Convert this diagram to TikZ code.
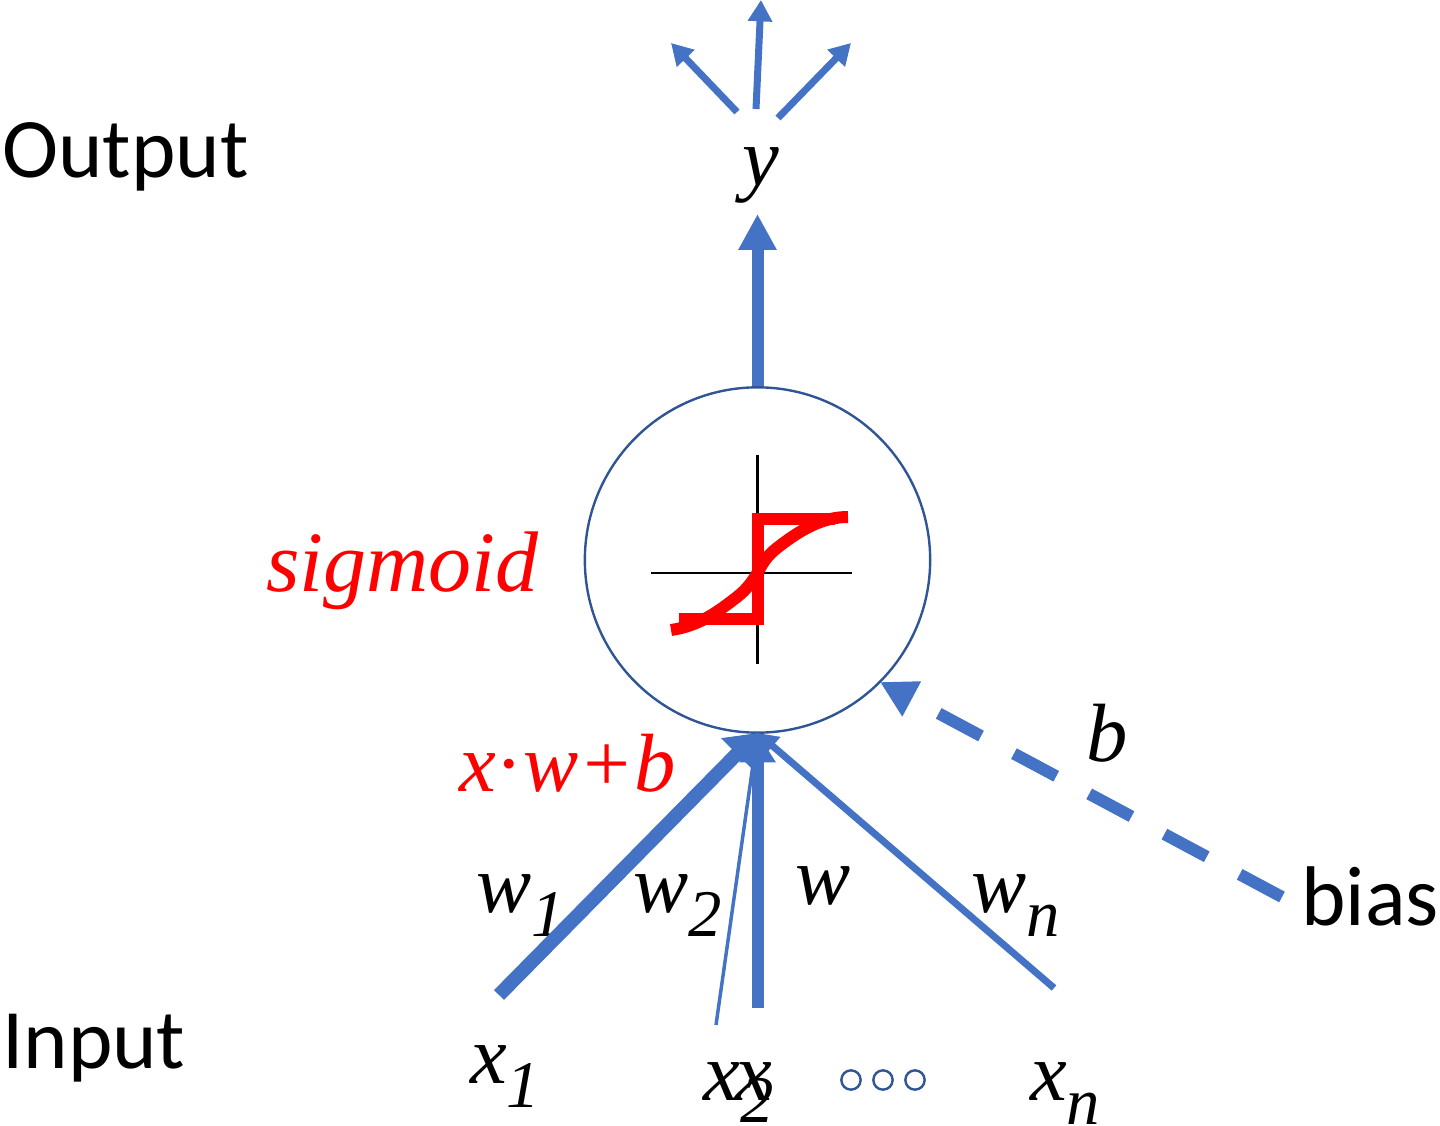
\documentclass[tikz,border=0pt]{standalone}
\usepackage{fontspec}
\setmainfont{Liberation Serif}
\newfontfamily\calibrifont{Carlito}
\definecolor{nnblue}{HTML}{4472C4}
\definecolor{nndark}{HTML}{2F5597}
\definecolor{nnred}{HTML}{FF0000}
\usetikzlibrary{arrows.meta}
\newcommand{\lowsub}[1]{\raisebox{-0.3em}{\fontsize{50}{50}\selectfont #1}}

\begin{document}
\begin{tikzpicture}[x=0.75pt, y=-0.75pt,
  lbl/.style={inner sep=0pt, anchor=base west, font=\fontsize{63.5}{63.5}\calibrifont},
  var/.style={inner sep=0pt, anchor=base west, font=\fontsize{62}{62}\selectfont\itshape},
  big/.style={line width=9pt, nnblue, -{Triangle[length=27pt, width=27pt]}},
  mid/.style={line width=5.25pt, nnblue, -{Triangle[length=16pt, width=17.5pt]}},
  redline/.style={line width=9pt, nnred}
]
  \useasboundingbox (0,0) rectangle (1440,1126);

  % Neuron
  \node[circle, draw=nndark, line width=1.8pt, minimum size=259pt, inner sep=0pt] (cell) at (757.5,560) {};

  % Labels
  \node[lbl] (output) at (2,178) {Output};
  \node[lbl] (input) at (2,1068) {Input};
  \node[lbl] (bias) at (1301,925) {bias};
  \node[var] (y) at (742,186) {y};
  \node[var, nnred, font=\fontsize{64.5}{64.5}\selectfont\itshape] (sigmoid) at (266,592) {sigmoid};
  \node[var, nnred] (sum) at (459,792) {x{\upshape·}w+b};
  \node[var] (b) at (1086,762) {b};
  \node[var] (w1) at (476,912) {w\lowsub{1}};
  \node[var] (w2) at (633,912) {w\lowsub{2}};
  \node[var] (w) at (795,904) {w};
  \node[var] (wn) at (971,912) {w\lowsub{n}};
  \node[var] (x1) at (470,1083) {x\lowsub{1}};
  \node[var] (x2) at (703,1100) {x};
  \node[var] (x3) at (735,1100) {x};
  \node[var] (sub2) at (740,1122) {\fontsize{50}{50}\selectfont 2};
  \node[var] (xn) at (1030,1100) {x\lowsub{n}};

  % Dots
  \foreach \i/\px in {1/851,2/883,3/915}
    \node[circle, draw=nndark, line width=1.8pt, minimum size=14.5pt, inner sep=0pt] (dot\i) at (\px,1080) {};

  % Ends
  \coordinate (ytip) at (757.5,214);
  \coordinate (tipl) at (671,43);
  \coordinate (tipm) at (761,0);
  \coordinate (tipr) at (851,43);
  \coordinate (outl) at (737,112);
  \coordinate (outm) at (756,109);
  \coordinate (outr) at (778,118);
  \coordinate (tip) at (757.5,733);
  \coordinate (in1) at (499,995);
  \coordinate (in2) at (716,1025);
  \coordinate (in3) at (757.5,1008);
  \coordinate (inn) at (1054,988);
  \coordinate (binput) at (1282,897);
  \coordinate (btip) at (880,682);

  % Arrows
  \draw[big] (cell) -- (ytip);
  \draw[mid] (outl) -- (tipl);
  \draw[mid] (outm) -- (tipm);
  \draw[mid] (outr) -- (tipr);
  \draw[line width=10.5pt, nnblue, -{Triangle[length=22pt, width=32pt]}] (in1) -- (tip);
  \draw[line width=2.6pt, nnblue] (in2) -- (tip);
  \draw[line width=9pt, nnblue, -{Triangle[length=22pt, width=26pt]}] (in3) -- (tip);
  \draw[line width=5.25pt, nnblue, -{Triangle[length=15pt, width=17pt]}] (inn) -- (tip);
  \draw[line width=9pt, nnblue, dash pattern=on 36pt off 28pt, -{Triangle[length=27pt, width=28pt]}] (binput) -- (btip);

  % Activation
  \coordinate (axl) at (651,573);
  \coordinate (axr) at (852,573);
  \coordinate (axt) at (757.5,455);
  \coordinate (axb) at (757.5,664);
  \draw[line width=1.8pt] (axl) -- (axr);
  \draw[line width=1.8pt] (axt) -- (axb);
  \draw[redline] (679,619) -- (757.5,619) -- (757.5,519) -- (835,519);
  \draw[redline] (671,630) .. controls (700,626) and (720,610) .. (737,597)
     .. controls (747,589) and (752,582) .. (757.5,573)
     .. controls (763,562) and (768,555) .. (777,548)
     .. controls (800,530) and (822,517) .. (848,517);
\end{tikzpicture}
\end{document}
